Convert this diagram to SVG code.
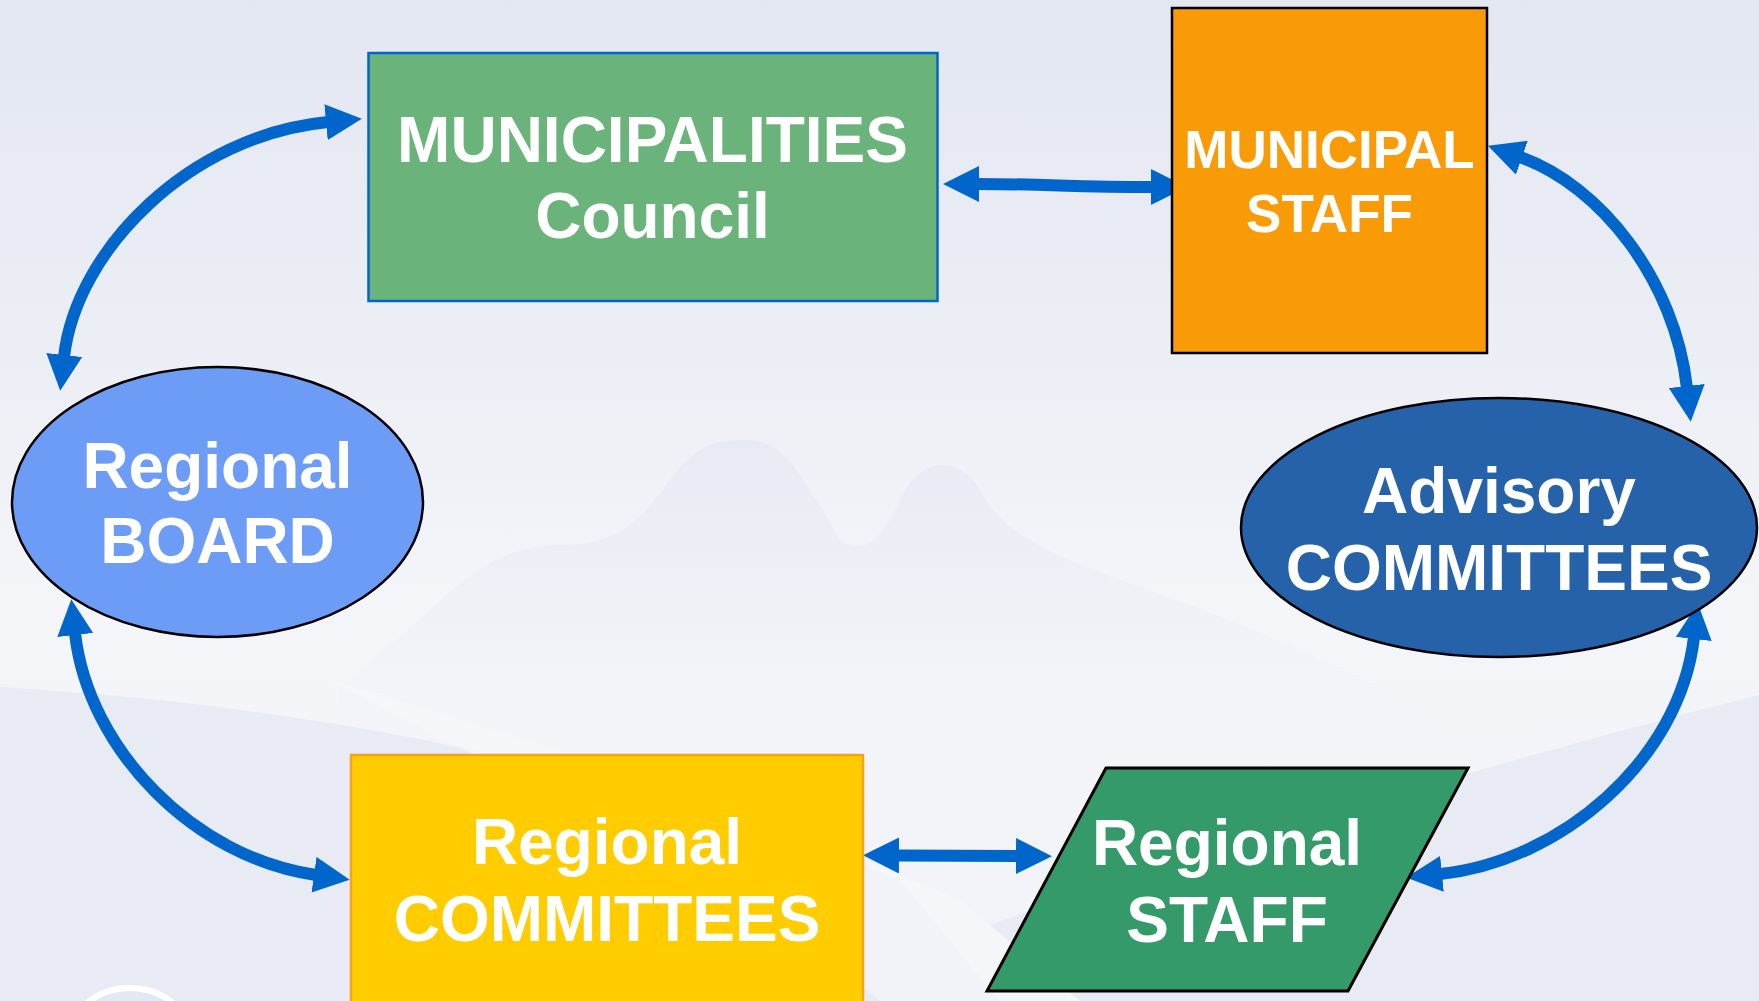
<svg xmlns="http://www.w3.org/2000/svg" width="1759" height="1001" viewBox="0 0 1759 1001">
  <defs>
    <linearGradient id="bg" x1="0" y1="0" x2="0" y2="1">
      <stop offset="0" stop-color="#E3E7F2"/>
      <stop offset="0.35" stop-color="#ECEEF5"/>
      <stop offset="0.6" stop-color="#F4F5F9"/>
      <stop offset="1" stop-color="#F2F3F8"/>
    </linearGradient>
    <linearGradient id="hill" x1="0" y1="0" x2="0" y2="1">
      <stop offset="0" stop-color="#E6E9F3" stop-opacity="0.9"/>
      <stop offset="0.6" stop-color="#ECEEF5" stop-opacity="0.5"/>
      <stop offset="1" stop-color="#F2F3F8" stop-opacity="0"/>
    </linearGradient>
    <marker id="head" viewBox="0 0 36 36" markerUnits="userSpaceOnUse" markerWidth="36" markerHeight="36" refX="2" refY="18" orient="auto-start-reverse">
      <path d="M0,0 L36,18 L0,36 Z" fill="#0066CC"/>
    </marker>
    <style>
      .lbl { font-family: "Liberation Sans", Arial, sans-serif; font-weight: bold; fill: #FFFFFF; text-anchor: middle; }
      .big { font-size: 64px; }
      .mid { font-size: 53px; }
      .link { fill: none; stroke: #0066CC; stroke-width: 12; marker-start: url(#head); marker-end: url(#head); }
    </style>
  </defs>

  <!-- backdrop -->
  <g id="backdrop">
    <rect x="0" y="0" width="1759" height="1001" fill="url(#bg)"/>
    <!-- faint hills in the middle -->
    <path d="M340,690 L430,610 C480,560 520,545 560,545 C620,545 640,520 670,480 C700,440 720,440 750,440 C780,440 800,470 840,540 C860,555 880,545 900,500 C920,455 960,455 980,490 C1000,530 1040,550 1120,580 C1300,640 1400,700 1470,740 L340,740 Z" fill="url(#hill)"/>
    <!-- lower bands -->
    <path d="M0,687 C300,705 600,760 900,880 L1000,1001 L0,1001 Z" fill="#E8EBF4"/>
    <path d="M1759,695 C1500,760 1200,850 990,925 L1080,1001 L1759,1001 Z" fill="#E8EBF4"/>
    <path d="M330,680 C600,760 800,830 960,900 L1080,1001 L880,1001 C760,900 560,800 330,680 Z" fill="#F5F6FA" opacity="0.7"/>
    <ellipse cx="130" cy="1050" rx="66" ry="62" fill="#E4E8F3" stroke="#FFFFFF" stroke-width="6"/>
  </g>

  <!-- connectors -->
  <g id="connectors">
    <path class="link" d="M64,357 C76,250 190,135 328,122"/>
    <path class="link" d="M977,184 C1050,184 1070,187 1153,187"/>
    <path class="link" d="M1520,157 C1600,185 1675,280 1687,388"/>
    <path class="link" d="M75,633 C88,750 195,858 316,875"/>
    <path class="link" d="M1694,637 C1680,760 1560,862 1440,874"/>
    <path class="link" d="M897,855.5 L1018,856"/>
  </g>

  <g id="municipalities-council">
    <rect x="368.5" y="53" width="569" height="248" fill="#6AB47B" stroke="#0066CC" stroke-width="2.5"/>
    <text class="lbl big" x="652.5" y="162">MUNICIPALITIES</text>
    <text class="lbl big" x="652.5" y="238">Council</text>
  </g>

  <g id="municipal-staff">
    <rect x="1172" y="8" width="315" height="345" fill="#F99A07" stroke="#000000" stroke-width="2.5"/>
    <text class="lbl mid" x="1329.5" y="168">MUNICIPAL</text>
    <text class="lbl mid" x="1329.5" y="232">STAFF</text>
  </g>

  <g id="regional-board">
    <ellipse cx="217.5" cy="502" rx="205.5" ry="135" fill="#6D9CF7" stroke="#000000" stroke-width="2.5"/>
    <text class="lbl big" x="217.5" y="488">Regional</text>
    <text class="lbl big" x="217.5" y="563">BOARD</text>
  </g>

  <g id="advisory-committees">
    <ellipse cx="1499" cy="527.5" rx="258" ry="129.5" fill="#2662AA" stroke="#000000" stroke-width="2.5"/>
    <text class="lbl big" x="1499" y="513">Advisory</text>
    <text class="lbl big" x="1499" y="590">COMMITTEES</text>
  </g>

  <g id="regional-committees">
    <rect x="351" y="755" width="512" height="260" fill="#FFCC00" stroke="#F7A21B" stroke-width="2.5"/>
    <text class="lbl big" x="607" y="864">Regional</text>
    <text class="lbl big" x="607" y="941">COMMITTEES</text>
  </g>

  <g id="regional-staff">
    <polygon points="1106,768 1468,768 1348,991 987,991" fill="#359A69" stroke="#000000" stroke-width="3"/>
    <text class="lbl big" x="1227" y="865">Regional</text>
    <text class="lbl big" x="1227" y="942">STAFF</text>
  </g>
</svg>
